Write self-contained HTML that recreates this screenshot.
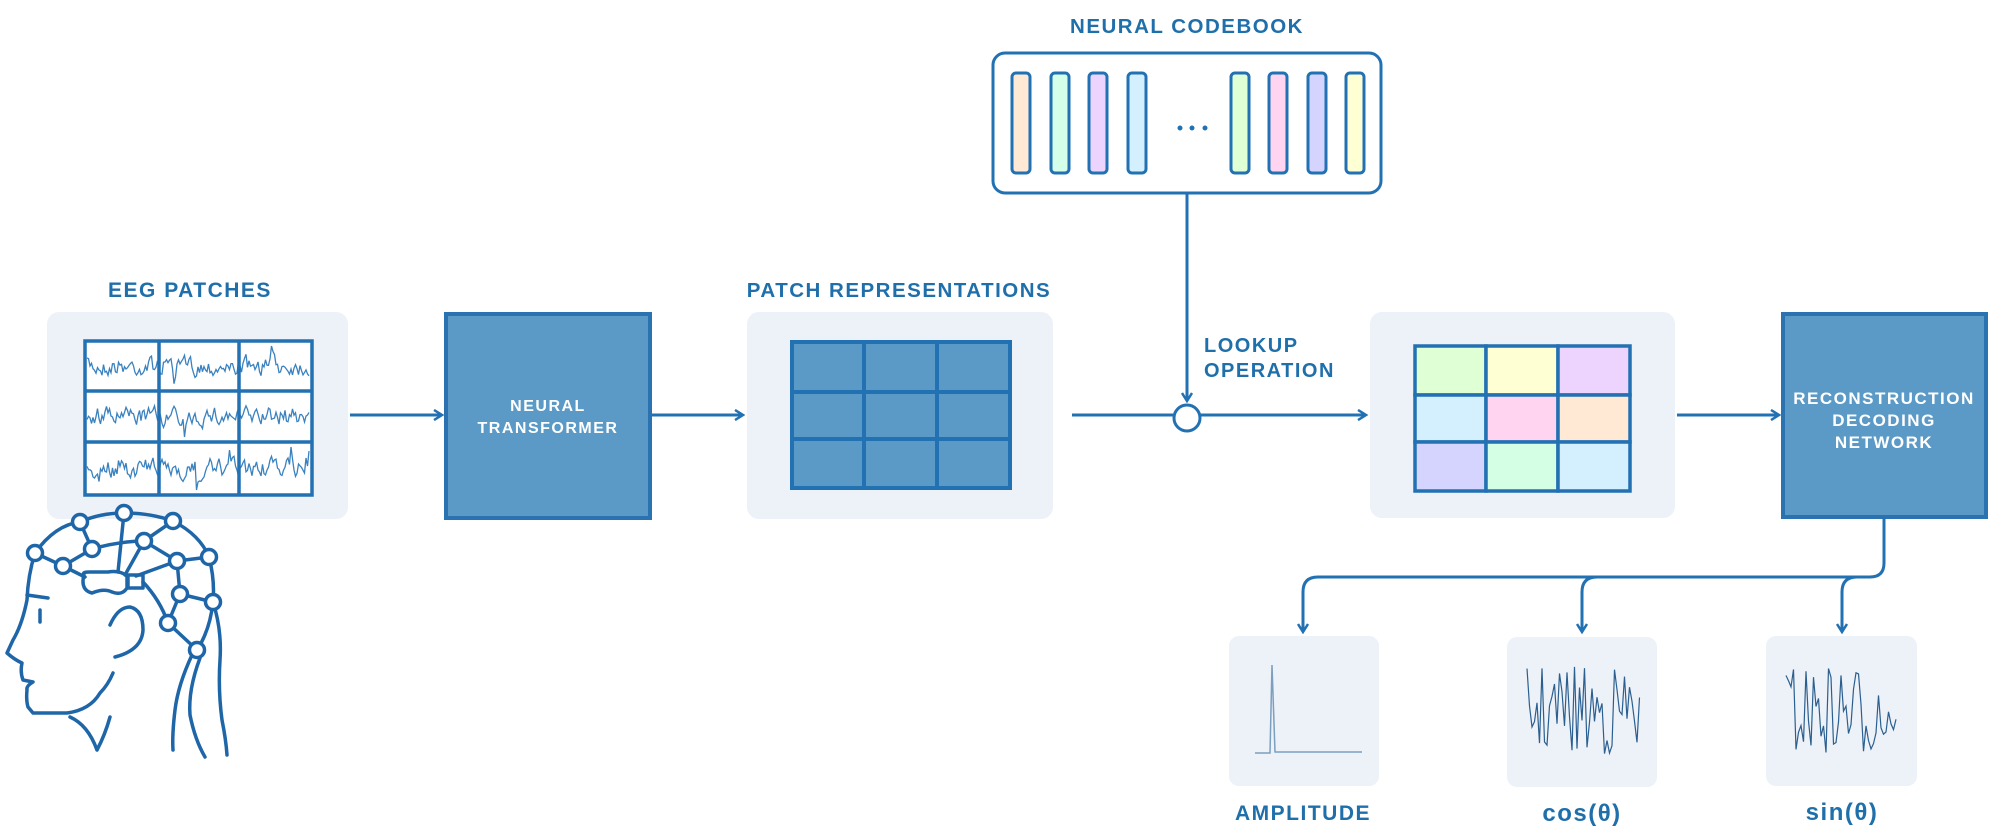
<!DOCTYPE html>
<html><head><meta charset="utf-8"><style>
html,body{margin:0;padding:0;background:#fff;}
svg{display:block;}
text{font-family:"Liberation Sans",sans-serif;font-weight:bold;fill:#1f6fab;letter-spacing:1.5px;}
</style></head><body>
<svg id="s" width="1994" height="836" viewBox="0 0 1994 836" xmlns="http://www.w3.org/2000/svg">
<defs>
<marker id="ar" viewBox="0 0 12 12" refX="10" refY="6" markerWidth="12" markerHeight="12" markerUnits="userSpaceOnUse" orient="auto">
<path d="M2,1 L10,6 L2,11" fill="none" stroke="#2271b3" stroke-width="2.5"/></marker>
</defs>
<!-- titles -->
<text x="190" y="297" font-size="21" text-anchor="middle">EEG PATCHES</text>
<text x="899" y="297" font-size="20.5" text-anchor="middle">PATCH REPRESENTATIONS</text>
<text x="1187" y="33" font-size="20.5" text-anchor="middle">NEURAL CODEBOOK</text>
<text x="1204" y="352" font-size="20">LOOKUP</text>
<text x="1204" y="377" font-size="20">OPERATION</text>

<!-- EEG panel -->
<rect x="47" y="312" width="301" height="207" rx="12" fill="#edf1f8"/>
<rect x="85" y="341" width="227" height="154" fill="#fff" stroke="#2271b3" stroke-width="3.5"/>
<g id="waves"></g>
<g stroke="#2271b3" stroke-width="3.5">
<line x1="159" y1="341" x2="159" y2="495"/><line x1="239" y1="341" x2="239" y2="495"/>
<line x1="85" y1="391" x2="312" y2="391"/><line x1="85" y1="442" x2="312" y2="442"/></g>

<!-- arrow 1 -->
<line x1="350" y1="415" x2="442" y2="415" stroke="#2271b3" stroke-width="3" marker-end="url(#ar)"/>
<!-- transformer -->
<rect x="446" y="314" width="204" height="204" fill="#5b9ac6" stroke="#2a73b0" stroke-width="4"/>
<text x="548" y="411" font-size="16" text-anchor="middle" style="fill:#fff">NEURAL</text>
<text x="548" y="433" font-size="16" text-anchor="middle" style="fill:#fff">TRANSFORMER</text>
<line x1="652" y1="415" x2="743" y2="415" stroke="#2271b3" stroke-width="3" marker-end="url(#ar)"/>

<!-- patch rep -->
<rect x="747" y="312" width="306" height="207" rx="12" fill="#edf1f8"/>
<rect x="792" y="342" width="218" height="146" fill="#5b9ac6" stroke="#2271b3" stroke-width="4"/>
<g stroke="#2271b3" stroke-width="4">
<line x1="864" y1="342" x2="864" y2="488"/><line x1="937" y1="342" x2="937" y2="488"/>
<line x1="792" y1="392" x2="1010" y2="392"/><line x1="792" y1="439" x2="1010" y2="439"/></g>

<!-- codebook -->
<rect x="993" y="53" width="388" height="140" rx="12" fill="#fff" stroke="#2271b3" stroke-width="3"/>
<g stroke="#2271b3" stroke-width="3">
<rect x="1012" y="73" width="18" height="100" rx="4" fill="#ffe8d4"/>
<rect x="1051" y="73" width="18" height="100" rx="4" fill="#d4ffe8"/>
<rect x="1089" y="73" width="18" height="100" rx="4" fill="#ecd4ff"/>
<rect x="1128" y="73" width="18" height="100" rx="4" fill="#d4f0ff"/>
<rect x="1231" y="73" width="18" height="100" rx="4" fill="#dfffd4"/>
<rect x="1269" y="73" width="18" height="100" rx="4" fill="#ffd4f0"/>
<rect x="1308" y="73" width="18" height="100" rx="4" fill="#d4d4ff"/>
<rect x="1346" y="73" width="18" height="100" rx="4" fill="#ffffd4"/></g>
<g fill="#2271b3"><circle cx="1180" cy="128" r="2.5"/><circle cx="1192" cy="128" r="2.5"/><circle cx="1205" cy="128" r="2.5"/></g>

<!-- lookup -->
<line x1="1187" y1="194" x2="1187" y2="401" stroke="#2271b3" stroke-width="3" marker-end="url(#ar)"/>
<line x1="1072" y1="415" x2="1173" y2="415" stroke="#2271b3" stroke-width="3"/>
<circle cx="1187" cy="418" r="13" fill="#fff" stroke="#2271b3" stroke-width="3"/>
<line x1="1200" y1="415" x2="1366" y2="415" stroke="#2271b3" stroke-width="3" marker-end="url(#ar)"/>

<!-- colored panel -->
<rect x="1370" y="312" width="305" height="206" rx="12" fill="#edf1f8"/>
<g stroke="#2271b3" stroke-width="3.5">
<rect x="1415" y="346" width="71" height="49" fill="#dfffd4"/>
<rect x="1486" y="346" width="72" height="49" fill="#ffffd4"/>
<rect x="1558" y="346" width="72" height="49" fill="#ecd4ff"/>
<rect x="1415" y="395" width="71" height="47" fill="#d4f0ff"/>
<rect x="1486" y="395" width="72" height="47" fill="#ffd4f0"/>
<rect x="1558" y="395" width="72" height="47" fill="#ffe8d4"/>
<rect x="1415" y="442" width="71" height="49" fill="#d4d4ff"/>
<rect x="1486" y="442" width="72" height="49" fill="#d4ffe4"/>
<rect x="1558" y="442" width="72" height="49" fill="#d4f0ff"/></g>
<line x1="1677" y1="415" x2="1779" y2="415" stroke="#2271b3" stroke-width="3" marker-end="url(#ar)"/>

<!-- recon -->
<rect x="1783" y="314" width="203" height="203" fill="#5b9ac6" stroke="#2a73b0" stroke-width="4"/>
<text x="1884" y="404" font-size="17" text-anchor="middle" style="fill:#fff">RECONSTRUCTION</text>
<text x="1884" y="426" font-size="17" text-anchor="middle" style="fill:#fff">DECODING</text>
<text x="1884" y="448" font-size="17" text-anchor="middle" style="fill:#fff">NETWORK</text>

<!-- branch -->
<g fill="none" stroke="#2271b3" stroke-width="3">
<path d="M1884,518 V563 Q1884,577 1870,577 H1318 Q1303,577 1303,592 V632" marker-end="url(#ar)"/>
<path d="M1597,577 Q1582,577 1582,592 V632" marker-end="url(#ar)"/>
<path d="M1857,577 Q1842,577 1842,592 V632" marker-end="url(#ar)"/>
</g>
<rect x="1229" y="636" width="150" height="150" rx="10" fill="#edf1f8"/>
<rect x="1507" y="637" width="150" height="150" rx="10" fill="#edf1f8"/>
<rect x="1766" y="636" width="151" height="150" rx="10" fill="#edf1f8"/>
<path d="M1255,753 H1270 L1272,665 L1275,752 H1362" fill="none" stroke="#7b9fbf" stroke-width="1.5"/>
<g id="sig"></g>
<text x="1303" y="820" font-size="21" text-anchor="middle">AMPLITUDE</text>
<text x="1582" y="821" font-size="24" text-anchor="middle">cos(θ)</text>
<text x="1842" y="820" font-size="24" text-anchor="middle">sin(θ)</text>

<!-- head -->
<g fill="none" stroke="#1f66a8" stroke-width="3.5" stroke-linecap="round" stroke-linejoin="round">
<path d="M35,553 Q55,525 80,522 Q100,513 124,513 Q150,513 173,521 Q200,535 209,557 Q215,580 213,602 Q210,630 197,650"/>
<path d="M35,553 L63,566 L92,549 Q120,541 144,541 L177,561 L209,557"/>
<path d="M92,549 L80,522 M144,541 L173,521 M124,513 L118,572 M144,541 L125,575 M177,561 L136,576 M177,561 L180,594 L213,602 M180,594 L168,623 L197,650 M63,566 L85,577"/>
<path d="M143,582 Q160,600 168,623"/>
<path d="M84,574 Q80,590 92,593 Q104,588 112,592 Q122,596 127,588 V576 Q120,570 108,572 H90 Q82,572 84,574 Z"/>
<rect x="128" y="575" width="15" height="13"/>
<path d="M35,553 Q28,575 27,600 Q22,625 13,640 L7,653 Q15,660 22,663 Q20,672 23,680 L33,682 Q26,686 27,690 Q26,700 28,707 L33,713 H67 Q90,710 100,693 Q108,685 113,673"/>
<path d="M27,595 L48,598 M40,610 V622"/>
<path d="M110,625 Q118,607 130,607 Q143,610 143,630 Q142,650 115,657"/>
<path d="M70,717 Q88,725 97,750 M110,717 Q105,735 97,750"/>
<path d="M192,655 Q178,685 175,710 Q172,735 173,750"/>
<path d="M200,658 Q188,690 190,715 Q195,740 205,757"/>
<path d="M213,602 Q222,630 220,660 Q218,690 222,720 Q226,740 227,755"/>
</g>
<g fill="#fff" stroke="#1f66a8" stroke-width="3.5">
<circle cx="80" cy="522" r="7.5"/><circle cx="124" cy="513" r="7.5"/><circle cx="173" cy="521" r="7.5"/>
<circle cx="35" cy="553" r="7.5"/><circle cx="63" cy="566" r="7.5"/><circle cx="92" cy="549" r="7.5"/>
<circle cx="144" cy="541" r="7.5"/><circle cx="177" cy="561" r="7.5"/><circle cx="209" cy="557" r="7.5"/>
<circle cx="180" cy="594" r="7.5"/><circle cx="213" cy="602" r="7.5"/><circle cx="168" cy="623" r="7.5"/>
<circle cx="197" cy="650" r="7.5"/></g>
</svg>
<script>
(function(){
var seed=7;function r(){seed=(seed*16807)%2147483647;return seed/2147483647;}
var NS="http://www.w3.org/2000/svg";
function poly(g,pts,col,w){var p=document.createElementNS(NS,"polyline");p.setAttribute("points",pts.join(" "));p.setAttribute("fill","none");p.setAttribute("stroke",col);p.setAttribute("stroke-width",w);g.appendChild(p);}
var g=document.getElementById("waves");
var rows=[[343,389],[393,440],[444,493]];
rows.forEach(function(rw){var mid=(rw[0]+rw[1])/2,pts=[],v=0;
 for(var x=87;x<=310;x+=1.5){v=v*0.5+(r()-0.5)*16; if(r()<0.03)v+=(r()-0.5)*40; var y=Math.max(rw[0]+3,Math.min(rw[1]-3,mid+v));pts.push(x.toFixed(1)+","+y.toFixed(1));}
 poly(g,pts,"#3a82bf",1.3);});
var s=document.getElementById("sig");
[[1527,1640],[1786,1898]].forEach(function(b){var pts=[];for(var x=b[0];x<=b[1];x+=2.5){var y=665+r()*92;pts.push(x+","+y.toFixed(1));}poly(s,pts,"#2b5f8f",1.2);});
})();
</script>
</body></html>
